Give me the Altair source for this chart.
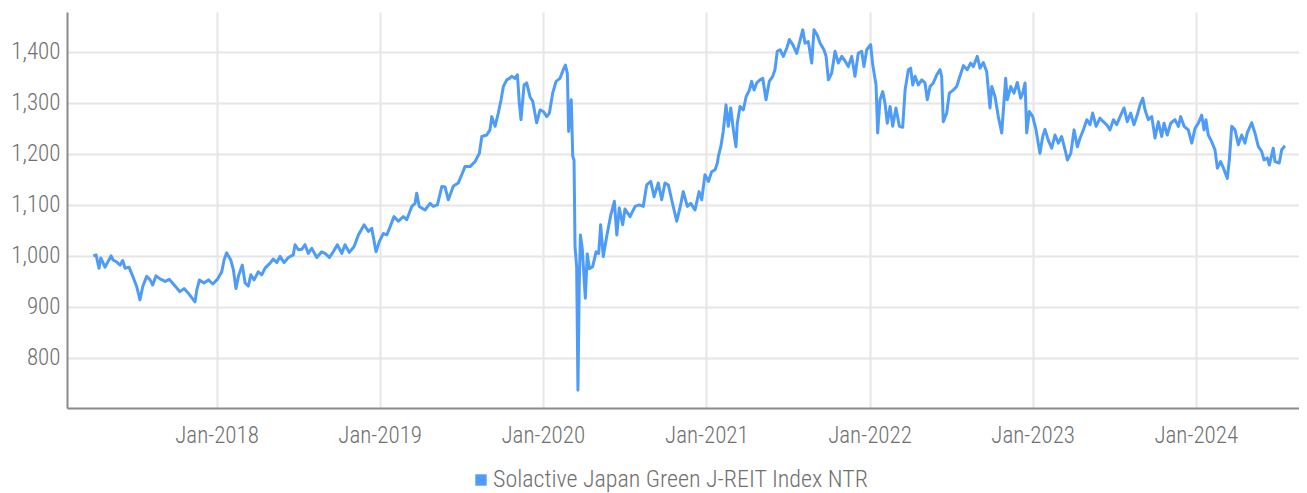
import altair as alt
import pandas as pd

# ---- data (decimal year, index level) ----
years = [
    2017.245, 2017.262, 2017.280, 2017.291, 2017.317, 2017.354, 2017.366, 2017.389, 2017.409, 2017.425,
    2017.440, 2017.464, 2017.487, 2017.511, 2017.531, 2017.548, 2017.572, 2017.593, 2017.609, 2017.629,
    2017.654, 2017.685, 2017.711, 2017.746, 2017.776, 2017.801, 2017.827, 2017.868, 2017.879, 2017.895,
    2017.923, 2017.950, 2017.977, 2018.005, 2018.032, 2018.046, 2018.062, 2018.087, 2018.103, 2018.119,
    2018.134, 2018.158, 2018.175, 2018.195, 2018.210, 2018.230, 2018.256, 2018.277, 2018.297, 2018.328,
    2018.348, 2018.369, 2018.389, 2018.414, 2018.440, 2018.470, 2018.481, 2018.501,
    2018.522, 2018.542, 2018.562, 2018.583, 2018.614, 2018.644, 2018.665, 2018.691, 2018.715, 2018.740,
    2018.767, 2018.787, 2018.813, 2018.842, 2018.869, 2018.904, 2018.930, 2018.951, 2018.977, 2018.997,
    2019.022, 2019.043, 2019.063, 2019.087, 2019.114, 2019.144, 2019.165, 2019.196, 2019.216, 2019.226,
    2019.242, 2019.277, 2019.308, 2019.328, 2019.353, 2019.380, 2019.400, 2019.420, 2019.451, 2019.481,
    2019.502, 2019.522, 2019.553, 2019.584, 2019.610, 2019.625, 2019.655, 2019.675, 2019.686, 2019.706,
    2019.726, 2019.743, 2019.757, 2019.778, 2019.794,
    2019.808, 2019.829, 2019.843, 2019.855, 2019.865, 2019.884, 2019.900, 2019.920, 2019.937, 2019.961,
    2019.982, 2020.002, 2020.023, 2020.039, 2020.059, 2020.080, 2020.104, 2020.124, 2020.137, 2020.149,
    2020.157, 2020.165, 2020.173, 2020.182, 2020.190, 2020.196, 2020.206, 2020.214, 2020.222, 2020.229,
    2020.241, 2020.259, 2020.271, 2020.284, 2020.304, 2020.325, 2020.341, 2020.353, 2020.369, 2020.390,
    2020.415, 2020.437, 2020.452, 2020.467, 2020.488, 2020.502, 2020.533, 2020.564, 2020.590, 2020.614,
    2020.635, 2020.660, 2020.680, 2020.706, 2020.727, 2020.747, 2020.768, 2020.788, 2020.819, 2020.839,
    2020.859, 2020.884, 2020.905, 2020.931, 2020.956, 2020.972, 2020.992, 2021.013, 2021.033, 2021.054,
    2021.068,
    2021.074, 2021.089, 2021.104, 2021.121, 2021.135, 2021.150, 2021.166, 2021.182, 2021.190, 2021.207,
    2021.227, 2021.244, 2021.264, 2021.278, 2021.293, 2021.309, 2021.329, 2021.346, 2021.366, 2021.386,
    2021.407, 2021.421, 2021.435, 2021.452, 2021.472, 2021.493, 2021.509, 2021.530, 2021.554, 2021.570,
    2021.591, 2021.605, 2021.625, 2021.646, 2021.660, 2021.680, 2021.697, 2021.721, 2021.734, 2021.748,
    2021.768, 2021.789, 2021.809, 2021.830, 2021.850, 2021.870, 2021.891, 2021.911, 2021.931, 2021.952,
    2021.966, 2021.983, 2022.007, 2022.020, 2022.040, 2022.050, 2022.064, 2022.081, 2022.095, 2022.109,
    2022.126, 2022.142, 2022.162, 2022.183,
    2022.203, 2022.218, 2022.238, 2022.252, 2022.265, 2022.279, 2022.299, 2022.320, 2022.340, 2022.354,
    2022.371, 2022.391, 2022.412, 2022.432, 2022.442, 2022.452, 2022.473, 2022.489, 2022.513, 2022.534,
    2022.554, 2022.575, 2022.599, 2022.620, 2022.636, 2022.660, 2022.677, 2022.697, 2022.718, 2022.738,
    2022.749, 2022.769, 2022.789, 2022.810, 2022.834, 2022.844, 2022.865, 2022.885, 2022.905, 2022.926,
    2022.938, 2022.953, 2022.963, 2022.979, 2023.000, 2023.020, 2023.044, 2023.061, 2023.075, 2023.095,
    2023.116, 2023.136, 2023.157, 2023.177, 2023.198, 2023.212, 2023.233, 2023.253, 2023.273,
    2023.290, 2023.310, 2023.331, 2023.351, 2023.367, 2023.388, 2023.412, 2023.432, 2023.453, 2023.473,
    2023.494, 2023.514, 2023.535, 2023.559, 2023.579, 2023.600, 2023.620, 2023.640, 2023.657, 2023.674,
    2023.688, 2023.708, 2023.729, 2023.749, 2023.769, 2023.790, 2023.804, 2023.824, 2023.845, 2023.871,
    2023.892, 2023.906, 2023.927, 2023.953, 2023.974, 2023.994, 2024.014, 2024.035, 2024.049, 2024.061,
    2024.075, 2024.096, 2024.116, 2024.131, 2024.151, 2024.172, 2024.192, 2024.204, 2024.219, 2024.239,
    2024.259, 2024.280, 2024.300, 2024.314, 2024.341, 2024.361, 2024.382, 2024.402, 2024.417, 2024.437,
    2024.449, 2024.473, 2024.484, 2024.510, 2024.525, 2024.545,
]

values = [
    1000, 1002, 976, 996, 978, 1000, 992, 988, 982, 991,
    976, 978, 960, 940, 914, 940, 960, 953, 943, 961,
    955, 950, 954, 941, 930, 936, 927, 910, 933, 953,
    947, 953, 945, 954, 969, 992, 1006, 992, 973, 936,
    960, 982, 947, 941, 963, 953, 969, 963, 976, 986,
    994, 987, 999, 987, 997, 1002, 1022, 1012,
    1013, 1022, 1005, 1015, 997, 1008, 1005, 997, 1008, 1022,
    1005, 1022, 1007, 1018, 1041, 1061, 1048, 1054, 1008, 1028,
    1044, 1041, 1057, 1077, 1068, 1077, 1071, 1097, 1103, 1123,
    1097, 1090, 1103, 1097, 1100, 1136, 1135, 1110, 1137, 1143,
    1159, 1175, 1175, 1185, 1201, 1234, 1237, 1247, 1273, 1254,
    1280, 1306, 1332, 1345, 1348,
    1352, 1348, 1355, 1299, 1267, 1335, 1339, 1312, 1303, 1261,
    1286, 1283, 1273, 1280, 1319, 1342, 1348, 1365, 1374, 1358,
    1244, 1286, 1306, 1195, 1188, 1018, 979, 737, 946, 1041,
    1012, 917, 1004, 975, 979, 1008, 1005, 1061, 999, 1038,
    1080, 1107, 1041, 1094, 1061, 1092, 1077, 1097, 1100, 1097,
    1139, 1146, 1116, 1143, 1110, 1143, 1139, 1110, 1068, 1094,
    1126, 1097, 1103, 1090, 1126, 1110, 1159, 1146, 1165, 1169,
    1182,
    1195, 1214, 1244, 1296, 1254, 1290, 1247, 1214, 1260, 1293,
    1286, 1312, 1325, 1342, 1325, 1339, 1345, 1348, 1306, 1342,
    1352, 1365, 1401, 1404, 1391, 1407, 1424, 1414, 1397, 1417,
    1443, 1417, 1420, 1378, 1443, 1433, 1417, 1404, 1391, 1345,
    1358, 1401, 1378, 1391, 1382, 1371, 1391, 1352, 1397, 1401,
    1371, 1404, 1414, 1374, 1335, 1241, 1306, 1322, 1299, 1260,
    1293, 1254, 1290, 1254,
    1252, 1325, 1365, 1368, 1335, 1352, 1335, 1345, 1339, 1306,
    1332, 1339, 1355, 1365, 1352, 1263, 1280, 1319, 1325, 1332,
    1352, 1373, 1365, 1378, 1371, 1391, 1368, 1379, 1361, 1290,
    1332, 1312, 1273, 1241, 1348, 1306, 1332, 1319, 1340, 1309,
    1319, 1339, 1241, 1283, 1273, 1247, 1201, 1234, 1248, 1227,
    1211, 1237, 1221, 1234, 1208, 1188, 1201, 1247, 1214,
    1231, 1247, 1267, 1257, 1280, 1254, 1270, 1263, 1257, 1247,
    1267, 1257, 1273, 1290, 1263, 1280, 1257, 1276, 1296, 1309,
    1286, 1267, 1273, 1231, 1263, 1234, 1260, 1237, 1260, 1267,
    1254, 1273, 1254, 1247, 1221, 1250, 1260, 1276, 1247, 1267,
    1237, 1224, 1208, 1172, 1185, 1169, 1152, 1188, 1254, 1247,
    1218, 1237, 1221, 1241, 1261, 1241, 1214, 1205, 1188, 1192,
    1178, 1211, 1185, 1182, 1208, 1216,
]

series_name = "Solactive Japan Green J-REIT Index NTR"
y_ticks = [800, 900, 1000, 1100, 1200, 1300, 1400]
x_tick_years = [2018, 2019, 2020, 2021, 2022, 2023, 2024]
x_domain_years = [2017.084, 2024.631]
y_domain = [702, 1478]

LINE_COLOR = "#4e9cf7"
FONT = "Roboto Condensed, Roboto, sans-serif"
LABEL_COLOR = "#707070"
FS = 23
LEG_FS = 24

base = pd.Timestamp("2018-01-01")


def to_date(t):
    return base + pd.to_timedelta((t - 2018.0) * 365.25, unit="D")


def to_dt(t):
    d = to_date(t)
    return alt.DateTime(year=d.year, month=d.month, date=d.day, hours=d.hour)


df = pd.DataFrame({
    "date": [to_date(t) for t in years],
    "value": values,
    "series": series_name,
})

chart = alt.Chart(df).mark_line(strokeWidth=3, clip=True, strokeJoin="round").encode(
    x=alt.X(
        "date:T",
        scale=alt.Scale(domain=[to_dt(x_domain_years[0]), to_dt(x_domain_years[1])]),
        axis=alt.Axis(
            values=[alt.DateTime(year=y, month=1, date=1) for y in x_tick_years],
            format="%b-%Y", title=None, grid=True, ticks=False, tickSize=0,
            labelPadding=16, labelFontSize=FS, labelFont=FONT, labelColor=LABEL_COLOR,
            labelFontWeight=300,
            domainColor="#8a8a8a", domainWidth=2, gridColor="#e6e6e6", gridWidth=2,
            labelFlush=False,
        ),
    ),
    y=alt.Y(
        "value:Q",
        scale=alt.Scale(domain=y_domain, nice=False, zero=False),
        axis=alt.Axis(
            values=y_ticks, format=",d", title=None, grid=True, ticks=False, tickSize=0,
            labelPadding=7, labelFontSize=FS, labelFont=FONT, labelColor=LABEL_COLOR,
            labelFontWeight=300,
            domainColor="#8a8a8a", domainWidth=2, gridColor="#e6e6e6", gridWidth=2,
        ),
    ),
    color=alt.Color(
        "series:N",
        scale=alt.Scale(range=[LINE_COLOR]),
        legend=alt.Legend(
            title=None, orient="none", legendX=402, legendY=456,
            symbolType="square", symbolSize=130, symbolFillColor=LINE_COLOR,
            symbolStrokeColor=LINE_COLOR, symbolStrokeWidth=0, symbolOpacity=1,
            labelFontSize=LEG_FS, labelFont=FONT, labelColor=LABEL_COLOR, labelOffset=0,
            labelFontWeight=300, labelLimit=600,
        ),
    ),
).properties(
    width=1232,
    height=396,
    autosize=alt.AutoSizeParams(type="none"),
    padding={"left": 59, "top": 4, "right": 0, "bottom": 85},
).configure_view(stroke=None)

chart.save("out.html", embed_options={"renderer": "svg", "actions": False})
